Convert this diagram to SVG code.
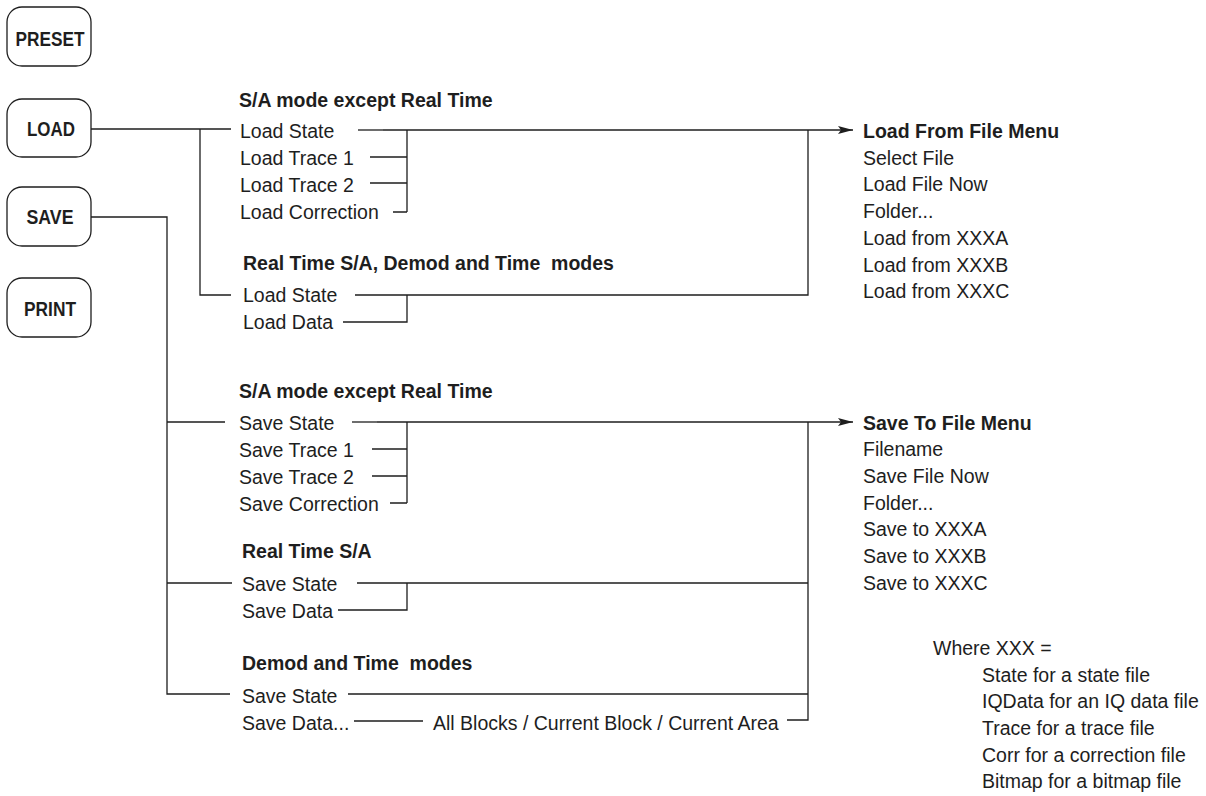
<svg xmlns="http://www.w3.org/2000/svg" width="1206" height="796" viewBox="0 0 1206 796">
<style>
text{font-family:"Liberation Sans",Arial,sans-serif;font-size:19.5px;fill:#1e1e1e;white-space:pre}
.b{font-weight:bold}
.btn{font-weight:bold;font-size:21px;text-anchor:middle}
.box{fill:#fff;stroke:#1e1e1e;stroke-width:1.3}
.ln{stroke:#1e1e1e;stroke-width:1.3;fill:none}
.ar{stroke:#1e1e1e;stroke-width:1.7;fill:none}
</style>
<defs>
<marker id="ah" markerWidth="16" markerHeight="10" refX="15" refY="5" orient="auto" markerUnits="userSpaceOnUse">
<path d="M0,1 L15,5 L0,9 L3,5 Z" fill="#1e1e1e"/>
</marker>
</defs>
<rect width="1206" height="796" fill="#fff"/>

<g id="preset"><rect class="box" x="7" y="7" width="84" height="59" rx="15"/><text class="btn" x="50" y="46" textLength="69" lengthAdjust="spacingAndGlyphs">PRESET</text></g>
<g id="load"><rect class="box" x="7" y="99" width="84" height="58" rx="15"/><text class="btn" x="51" y="136" textLength="48" lengthAdjust="spacingAndGlyphs">LOAD</text></g>
<g id="save"><rect class="box" x="7" y="187" width="84" height="59" rx="15"/><text class="btn" x="50" y="224" textLength="47" lengthAdjust="spacingAndGlyphs">SAVE</text></g>
<g id="print"><rect class="box" x="7" y="278" width="84" height="59" rx="15"/><text class="btn" x="50" y="316" textLength="52" lengthAdjust="spacingAndGlyphs">PRINT</text></g>

<g id="connectors">
<!-- LOAD -->
<path class="ln" d="M91,129 H231 M200,129 V295 H231"/>
<path class="ln" d="M358,130 H383"/>
<path class="ar" d="M383,130 H853" marker-end="url(#ah)"/>
<path class="ln" d="M370,157 H407 M370,183 H407 M393,212 H407 M407,130 V212"/>
<path class="ln" d="M808,130 V295 H355 M407,295 V322 H343"/>
<!-- SAVE -->
<path class="ln" d="M91,217 H167 V694 H230 M167,422 H225 M167,583 H232"/>
<path class="ln" d="M352,422 H377"/>
<path class="ar" d="M377,422 H853" marker-end="url(#ah)"/>
<path class="ln" d="M372,449 H407 M372,476 H407 M390,503 H407 M407,422 V503"/>
<path class="ln" d="M808,422 V720 H787 M357,583 H808 M407,583 V610 H338 M348,694 H808 M354,721 H423"/>
</g>

<g id="load-menu">
<text class="b" x="239" y="107">S/A mode except Real Time</text>
<text x="240" y="138">Load State</text>
<text x="240" y="165">Load Trace 1</text>
<text x="240" y="192">Load Trace 2</text>
<text x="240" y="219">Load Correction</text>
<text class="b" x="243" y="270">Real Time S/A, Demod and Time  modes</text>
<text x="243" y="302">Load State</text>
<text x="243" y="329">Load Data</text>
</g>

<g id="load-file-menu">
<text class="b" x="863" y="138">Load From File Menu</text>
<text x="863" y="165">Select File</text>
<text x="863" y="191">Load File Now</text>
<text x="863" y="218">Folder...</text>
<text x="863" y="245">Load from XXXA</text>
<text x="863" y="272">Load from XXXB</text>
<text x="863" y="298">Load from XXXC</text>
</g>

<g id="save-menu">
<text class="b" x="239" y="398">S/A mode except Real Time</text>
<text x="239" y="430">Save State</text>
<text x="239" y="457">Save Trace 1</text>
<text x="239" y="484">Save Trace 2</text>
<text x="239" y="511">Save Correction</text>
<text class="b" x="242" y="558">Real Time S/A</text>
<text x="242" y="591">Save State</text>
<text x="242" y="618">Save Data</text>
<text class="b" x="242" y="670">Demod and Time  modes</text>
<text x="242" y="703">Save State</text>
<text x="242" y="730">Save Data...</text>
<text x="433" y="730">All Blocks / Current Block / Current Area</text>
</g>

<g id="save-file-menu">
<text class="b" x="863" y="430">Save To File Menu</text>
<text x="863" y="456">Filename</text>
<text x="863" y="483">Save File Now</text>
<text x="863" y="510">Folder...</text>
<text x="863" y="536">Save to XXXA</text>
<text x="863" y="563">Save to XXXB</text>
<text x="863" y="590">Save to XXXC</text>
</g>

<g id="legend">
<text x="933" y="655">Where XXX =</text>
<text x="982" y="682">State for a state file</text>
<text x="982" y="708">IQData for an IQ data file</text>
<text x="982" y="735">Trace for a trace file</text>
<text x="982" y="762">Corr for a correction file</text>
<text x="982" y="788">Bitmap for a bitmap file</text>
</g>
</svg>
